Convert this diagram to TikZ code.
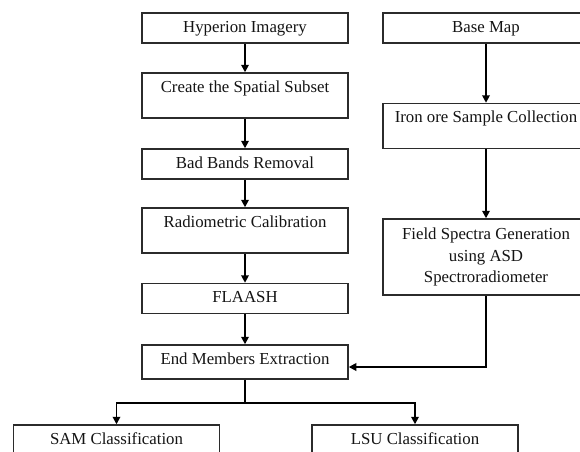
\documentclass[tikz,border=0pt]{standalone}
\usepackage{fontspec}
\setmainfont{Liberation Serif}
\usetikzlibrary{arrows.meta}
\definecolor{boxline}{HTML}{2B2B2B}
\definecolor{flowtext}{HTML}{141414}

\tikzset{
    stage/.style={draw=boxline, line width=1.5pt, fill=white, text=flowtext,
        minimum width=206pt, inner xsep=2pt, inner ysep=7pt,
        font=\fontsize{16.8}{21.7}\selectfont},
    oneline/.style={stage, text height=12pt, text depth=4pt},
    tall/.style={oneline, text depth=19pt},
    flow/.style={-{Triangle[length=7.5pt,width=7.5pt]}, line width=1.8pt, black}
}

\begin{document}
\begin{tikzpicture}[x=1pt, y=-1pt]
            \useasboundingbox (0,0) rectangle (580,451);
            \clip (0,0) rectangle (580,451);

            % Image processing chain
            \node[oneline] (hyp) at (245,28) {Hyperion Imagery};
            \node[tall] (subset) at (245,95.5) {Create the Spatial Subset};
            \node[oneline] (bands) at (245,164) {Bad Bands Removal};
            \node[tall] (radcal) at (245,230.5) {Radiometric Calibration};
            \node[oneline] (flaash) at (245,298.5) {FLAASH};
            \node[oneline, text depth=8pt] (endmem) at (245,362) {End Members Extraction};

            % Field data chain
            \node[oneline] (basemap) at (486,28) {Base Map};
            \node[tall] (sample) at (486,126) {Iron ore Sample Collection};
            \node[stage, align=center, minimum height=76pt] (field) at (486,257)
                {Field Spectra Generation\\using ASD\\Spectroradiometer};

            % Classifications
            \node[oneline] (sam) at (116.5,440) {SAM Classification};
            \node[oneline] (lsu) at (415,440) {LSU Classification};

            % Arrows
            \draw[flow] (hyp) -- (subset);
            \draw[flow] (subset) -- (bands);
            \draw[flow] (bands) -- (radcal);
            \draw[flow] (radcal) -- (flaash);
            \draw[flow] (flaash) -- (endmem);
            \draw[flow] (basemap) -- (sample);
            \draw[flow] (sample) -- (field);
            \draw[flow] (field.south) |- ([yshift=-5pt]endmem.east);
            \draw[flow] (endmem.south) -- ++(0,23) -| (sam.north);
            \draw[flow] (endmem.south) -- ++(0,23) -| (lsu.north);
        \end{tikzpicture}
\end{document}
